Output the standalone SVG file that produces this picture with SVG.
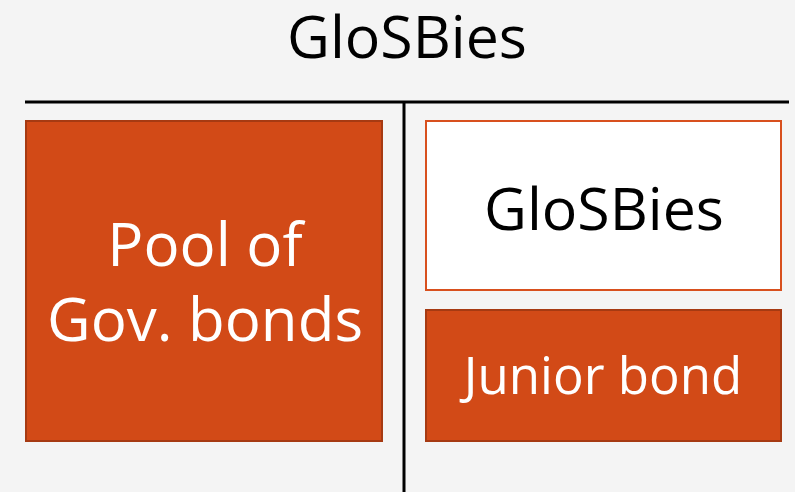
<svg xmlns="http://www.w3.org/2000/svg" width="795" height="492" viewBox="0 0 795 492">
<style>
.t{font-family:"Open Sans","Noto Sans","Liberation Sans",sans-serif;text-anchor:middle}
.or{fill:#D24A17;stroke:#A63A12;stroke-width:2}
.wh{fill:#FFFFFF;stroke:#D8501E;stroke-width:2}
</style>
<rect width="795" height="492" fill="#F4F4F4"/>
<text class="t" x="407" y="58" font-size="59" fill="#000">GloSBies</text>
<g id="connectors">
<line x1="25" y1="102" x2="789" y2="102" stroke="#000" stroke-width="3"/>
<line x1="404" y1="102" x2="404" y2="492" stroke="#000" stroke-width="3"/>
</g>
<g id="pool">
<rect class="or" x="26" y="121" width="356" height="320"/>
<text class="t" x="205" y="266" font-size="60" fill="#fff">Pool of</text>
<text class="t" x="205" y="341" font-size="60" fill="#fff">Gov. bonds</text>
</g>
<g id="glosbies">
<rect class="wh" x="426" y="121" width="355" height="169"/>
<text class="t" x="604" y="230" font-size="59" fill="#000">GloSBies</text>
</g>
<g id="junior">
<rect class="or" x="426" y="310" width="355" height="131"/>
<text class="t" x="603" y="394" font-size="51" fill="#fff">Junior bond</text>
</g>
</svg>
